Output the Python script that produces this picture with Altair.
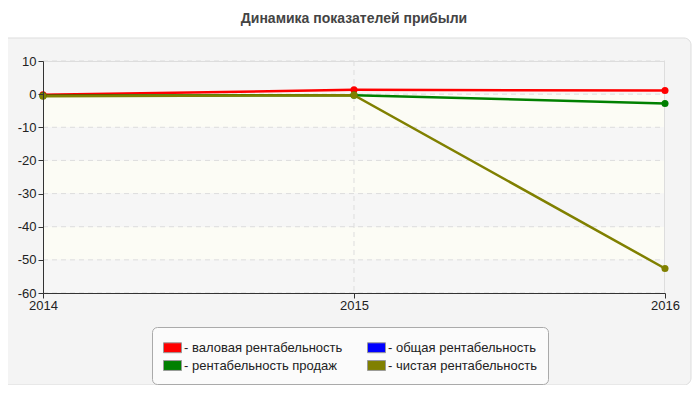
import altair as alt
import pandas as pd

years = [2014, 2015, 2016]
series_names = ["валовая рентабельность", "общая рентабельность",
                "рентабельность продаж", "чистая рентабельность"]
series_colors = ["#ff0000", "#0000ff", "#008000", "#808000"]
gross = [-0.2, 1.3, 1.1]
overall = [None, None, None]
sales = [-0.5, -0.3, -2.8]
net = [-0.6, -0.3, -52.6]
y_ticks = [-60, -50, -40, -30, -20, -10, 0, 10]
band_lo = [0, -10, -20, -30, -40, -50, -60]
band_hi = [10, 0, -10, -20, -30, -40, -50]
band_kind = ["a", "b", "a", "b", "a", "b", "a"]

rows = []
for name, vals in zip(series_names, [gross, overall, sales, net]):
    for yr, v in zip(years, vals):
        if v is not None:
            rows.append({"year": str(yr), "value": v, "series": name})
df = pd.DataFrame(rows)
bands = pd.DataFrame({"lo": band_lo, "hi": band_hi, "kind": band_kind})
grid = pd.DataFrame({"v": y_ticks})
vgrid = pd.DataFrame({"year": ["2015"]})

FONT = "Liberation Sans"
year_labels = [str(y) for y in years]
xs = alt.Scale(type="point", domain=year_labels, padding=0)
ys = alt.Scale(domain=[-60, 10], nice=False, zero=False)

x_axis = alt.Axis(labelPadding=1, labelOverlap=False, labelFlush=False, labelAngle=0,
                  zindex=2, title=None, grid=False)
y_axis = alt.Axis(values=y_ticks, labelExpr="'' + datum.value", labelPadding=2, labelOverlap=False,
                  zindex=2, title=None, grid=False)

panel = alt.Chart(pd.DataFrame({"a": [0]})).mark_rect(
    fill="#f4f4f4", stroke="#dddddd", strokeWidth=1, cornerRadius=7, clip=False
).encode(x=alt.value(-42), x2=alt.value(648), y=alt.value(-23), y2=alt.value(324))

band_layer = alt.Chart(bands).mark_rect().encode(
    x=alt.value(0), x2=alt.value(622),
    y=alt.Y("lo:Q", scale=ys, axis=y_axis),
    y2="hi:Q",
    fill=alt.Fill("kind:N", scale=alt.Scale(domain=["a", "b"], range=["#f6f6f6", "#fcfcf5"]), legend=None),
)

grid_layer = alt.Chart(grid).mark_rule(color="#dddddd", strokeDash=[5, 4], strokeWidth=1).encode(
    y=alt.Y("v:Q", scale=ys, axis=y_axis), x=alt.value(0), x2=alt.value(622)
)
vgrid_layer = alt.Chart(vgrid).mark_rule(color="#dddddd", strokeDash=[5, 4], strokeWidth=1).encode(
    x=alt.X("year:O", scale=xs, axis=x_axis), y=alt.value(0), y2=alt.value(232)
)
border_top = alt.Chart(pd.DataFrame({"a": [0]})).mark_rule(color="#dddddd").encode(
    x=alt.value(0), x2=alt.value(622), y=alt.value(0.5)
)
border_right = alt.Chart(pd.DataFrame({"a": [0]})).mark_rule(color="#dddddd").encode(
    x=alt.value(621.5), y=alt.value(0), y2=alt.value(232)
)

lines = alt.Chart(df).mark_line(strokeWidth=2.5, clip=False).encode(
    x=alt.X("year:O", scale=xs, axis=x_axis),
    y=alt.Y("value:Q", scale=ys, axis=y_axis),
    stroke=alt.Stroke("series:N", scale=alt.Scale(domain=series_names, range=series_colors), legend=None),
    detail="series:N",
    order=alt.Order("year:O"),
)

points = alt.Chart(df).mark_circle(size=50, opacity=1, clip=False).encode(
    x=alt.X("year:O", scale=xs, axis=x_axis),
    y=alt.Y("value:Q", scale=ys, axis=y_axis),
    fill=alt.Fill("series:N", scale=alt.Scale(domain=series_names, range=series_colors),
                  legend=alt.Legend(orient="none", legendX=109, legendY=266, columns=2,
                                    direction="horizontal", title=None,
                                    symbolType="M-1,-0.55H1V0.55H-1Z", symbolSize=324,
                                    symbolStrokeColor="#999999", symbolStrokeWidth=1,
                                    labelExpr="'- ' + datum.label", labelFontSize=13,
                                    labelFont=FONT, labelColor="#222", labelLimit=0,
                                    labelOffset=2, fillColor="#fbfbfb", strokeColor="#aaaaaa",
                                    cornerRadius=5, padding=11, columnPadding=22, rowPadding=1)),
)

chart = alt.layer(panel, band_layer, grid_layer, vgrid_layer, border_top, border_right,
                  lines, points).resolve_scale(fill="independent").properties(
    width=622, height=232,
    title=alt.TitleParams("Динамика показателей прибыли", fontSize=14, fontWeight="bold",
                          color="#444444", font=FONT, anchor="middle", frame="group", offset=12),
    autosize=alt.AutoSizeParams(type="none"),
    padding={"left": 35, "top": 53, "right": 27, "bottom": 92},
    background="#ffffff",
).configure_view(stroke=None).configure_axis(
    labelOverlap=False, labelFlush=False, domainColor="#333", tickColor="#333", tickSize=5,
    labelFontSize=13, labelColor="#222", labelFont=FONT, grid=False, labelBound=False
)

chart.save("out.html", embed_options={"renderer": "svg", "actions": False})
